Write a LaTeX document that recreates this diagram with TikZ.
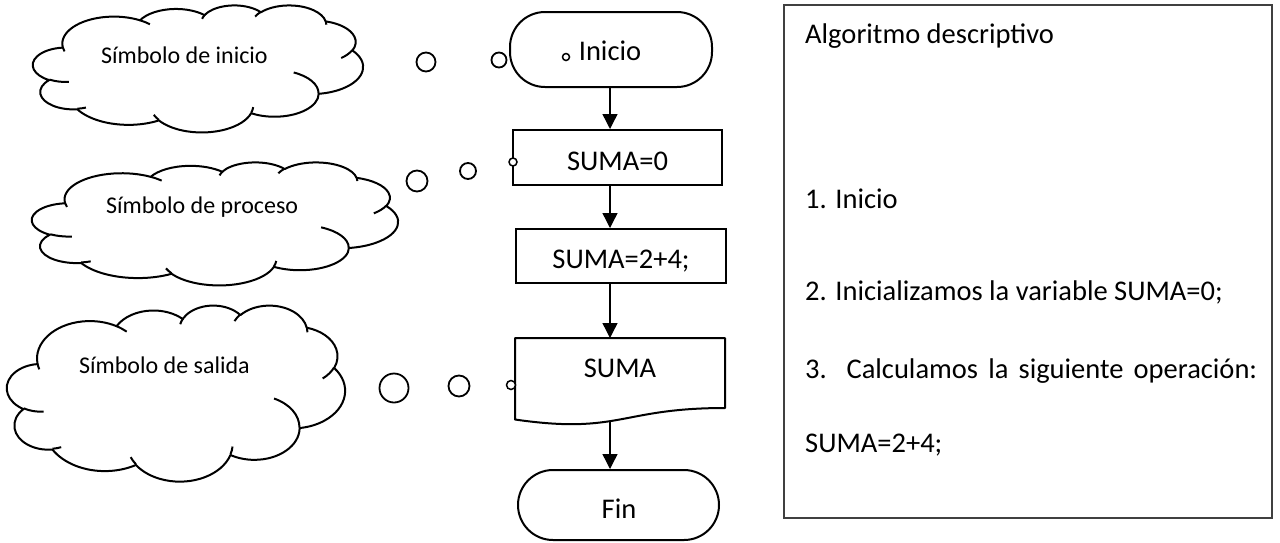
\documentclass[tikz,border=0pt]{standalone}
\usepackage{fontspec}
\setmainfont{Carlito}
\usetikzlibrary{arrows.meta}
\pgfmathdeclarefunction{oot}{3}{\pgfmathparse{atan2(\ooasp*(#1)*sin(#3),(#2)*cos(#3))}}
\newcommand\ooA[4]{arc[start angle={oot(#1,#2,#3)}, delta angle={mod(oot(#1,#2,(#3)+(#4))-oot(#1,#2,#3)+720,360)}, x radius=#1, y radius=#2]}
\newcommand\ooI[6]{(#1,#2) \ooA{#3}{#4}{#5}{#6}}
\newcommand\oocloud[5]{%
  \def\ooasp{1}%
  \pgfmathsetmacro\oosx{#3/432}%
  \pgfmathsetmacro\oosy{#4/432}%
  \begin{scope}[shift={(#1,#2)},x=\oosx pt,y=-\oosy pt]
    \draw[cloudline] (39.00,143.70)
      \ooA{67.53}{91.90}{-190.4875}{123.7805}
      \ooA{53.33}{72.67}{-144.1024}{89.9452}
      \ooA{43.65}{59.45}{-145.8079}{99.7230}
      \ooA{48.57}{65.95}{-130.9861}{117.2417}
      \ooA{53.33}{72.73}{-78.7089}{109.0269}
      \ooA{67.75}{92.20}{-46.2673}{130.2690}
      \ooA{57.85}{78.67}{0.6250}{114.0333}
      \ooA{67.52}{92.15}{22.4516}{115.1726}
      \ooA{77.20}{105.43}{66.2426}{75.7110}
      \ooA{43.60}{59.18}{-274.9421}{146.7356}
      \ooA{43.45}{59.45}{-246.8285}{152.5189}
      -- cycle;
    \draw[cloudline]
      \ooI{46.93}{261.77}{43.45}{59.45}{86.7420}{26.4295}
      \ooI{69.28}{348.99}{43.60}{59.18}{73.6105}{11.4475}
      \ooI{164.78}{390.90}{67.52}{92.15}{137.6242}{14.0811}
      \ooI{288.27}{347.51}{67.52}{92.15}{6.4533}{15.9984}
      \ooI{341.29}{229.54}{57.85}{78.67}{-70.2924}{70.9174}
      \ooI{417.98}{153.54}{53.33}{72.73}{30.3180}{27.7515}
      \ooI{383.24}{54.26}{48.57}{65.95}{-13.7443}{14.8589}
      \ooI{290.78}{39.52}{48.57}{65.95}{-149.1815}{18.1954}
      \ooI{221.41}{47.20}{43.65}{59.45}{-163.4943}{17.6864}
      \ooI{140.00}{51.92}{67.53}{91.90}{-66.7070}{12.3194}
      \ooI{41.27}{157.89}{67.53}{91.90}{157.6544}{11.8582};
    \coordinate (#5) at (216,216);
  \end{scope}}
\begin{document}
\begin{tikzpicture}[x=1pt,y=-1pt,
  cloudline/.style={line width=2pt,line join=round},
  flow/.style={draw,line width=2pt,inner sep=0pt},
  term/.style={flow,rounded corners=35pt},
  bubble/.style={draw,circle,fill=white,line width=1.8pt,inner sep=0pt},
  arr/.style={line width=1.4pt,-{Triangle[width=15pt,length=15pt]}},
  cloudtxt/.style={anchor=base west,inner sep=0pt,font=\fontsize{24}{29}\selectfont},
  flowtxt/.style={anchor=base,inner sep=0pt,font=\fontsize{28.5}{34}\selectfont},
  boxtxt/.style={anchor=base west,inner sep=0pt,font=\fontsize{28.5}{34}\selectfont}]
\useasboundingbox (0,0) rectangle (1280,542);
\fill[white] (0,0) rectangle (1280,542);

% clouds
\oocloud{33}{5}{330}{127}{cloudA}
\oocloud{32}{162}{366}{123}{cloudB}
\oocloud{7}{305}{338}{176}{cloudC}
\node[cloudtxt] (tA) at (101,63) {Símbolo de inicio};
\node[cloudtxt] (tB) at (106,213) {Símbolo de proceso};
\node[cloudtxt] (tC) at (79,373) {Símbolo de salida};

% flowchart
\coordinate (axis) at (610,0);
\node[term,minimum width=202pt,minimum height=75pt] (start) at (611,49.5) {};
\node[flow,minimum width=209pt,minimum height=55pt] (box1) at (617.5,157.5) {};
\node[flow,minimum width=210pt,minimum height=54pt] (box2) at (621,256) {};
\draw[line width=2pt,line join=round] (515,338) -- (725,338) -- (725,408)
  .. controls (620,408) and (620,434.7) .. (515,419.5) -- cycle;
\coordinate (doctop) at (610,338);
\coordinate (docbot) at (610,421);
\node[term,minimum width=201pt,minimum height=70pt] (fin) at (618.5,505) {};

\node[flowtxt] (tstart) at (610,60) {Inicio};
\node[flowtxt] (tbox1) at (617.5,170) {SUMA=0};
\node[flowtxt] (tbox2) at (621,268) {SUMA=2+4;};
\node[flowtxt] (tdoc) at (620,377) {SUMA};
\node[flowtxt] (tfin) at (619,518) {Fin};

\draw[arr] (start.south -| axis) -- (box1.north -| axis);
\draw[arr] (box1.south -| axis) -- (box2.north -| axis);
\draw[arr] (box2.south -| axis) -- (doctop);
\draw[arr] (docbot) -- (fin.north -| axis);

% thought bubbles
\node[bubble,minimum size=19pt] (bA1) at (426,62) {};
\node[bubble,minimum size=15pt] (bA2) at (499,60) {};
\node[bubble,minimum size=7pt,line width=1.5pt] (bA3) at (566,57) {};
\node[bubble,minimum size=21pt] (bB1) at (417,181) {};
\node[bubble,minimum size=16pt] (bB2) at (468,171) {};
\node[bubble,minimum size=8pt,line width=1.5pt] (bB3) at (513,162) {};
\node[bubble,minimum size=29pt] (bC1) at (394,388) {};
\node[bubble,minimum size=21pt] (bC2) at (459,386) {};
\node[bubble,minimum size=9pt,line width=1.5pt] (bC3) at (511,385) {};

% descriptive algorithm box
\node[draw=black!75,line width=1.3pt,minimum width=488pt,minimum height=513pt,inner sep=0pt] (algo) at (1028,261.5) {};
\node[boxtxt] (l0) at (805,43) {Algoritmo descriptivo};
\node[boxtxt] (l1) at (805,208) {1. Inicio};
\node[boxtxt] (l2) at (805,300) {2. Inicializamos la variable SUMA=0;};
\node[boxtxt] (l3) at (805,378) {\makebox[452pt][s]{3. Calculamos la siguiente operación:}};
\node[boxtxt] (l4) at (805,452) {SUMA=2+4;};
\end{tikzpicture}
\end{document}
